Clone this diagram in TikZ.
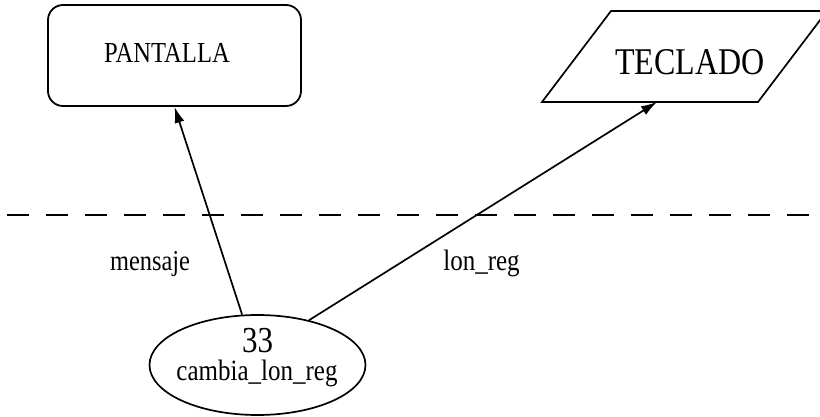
\documentclass[tikz,border=0pt]{standalone}
\usepackage{fontspec}
\setmainfont{Liberation Serif}
\usetikzlibrary{shapes.geometric,arrows.meta}
\newcommand{\tstretch}[2]{{\fontsize{#1}{#1}\selectfont\scalebox{1}[1.18]{#2}}}
\begin{document}
\begin{tikzpicture}[x=1pt,y=-1pt,
  edge/.style={line width=1.7pt},
  arr/.style={edge,-{Latex[length=16pt,width=10pt]}},
  lbl/.style={inner sep=0pt,anchor=base}]
\useasboundingbox (0,0) rectangle (820,417);
\clip (0,0) rectangle (820,417);
% PANTALLA
\node[draw,line width=1.8pt,rounded corners=15pt,minimum width=253pt,minimum height=101pt] (pant) at (174.5,55.5) {};
\node[lbl] (pantt) at (167,63) {\tstretch{24.6pt}{PANTALLA}};
% TECLADO
\draw[line width=1.7pt] (611,11) -- (827,11) -- (758,102) -- (542,102) -- cycle;
\node[lbl] (tec) at (690,75) {\tstretch{32pt}{TECLADO}};
\coordinate (tecb) at (657,102);
% dashed line
\coordinate (dl) at (7,215);
\coordinate (dr) at (815,215);
\draw[line width=2.8pt,dash pattern=on 22pt off 17pt] (dl) -- (dr);
% process
\node[draw,ellipse,line width=1.7pt,minimum width=216pt,minimum height=100pt] (ell) at (257.5,365) {};
\node[lbl] (num) at (257.5,352) {\tstretch{31pt}{33}};
\node[lbl] (name) at (257,380) {\tstretch{25pt}{cambia\_lon\_reg}};
% connectors
\draw[arr] (ell.107) -- (pant.south);
\draw[arr] (ell.41) -- (tecb);
% labels
\node[lbl] (m) at (150,270) {\tstretch{24.4pt}{mensaje}};
\node[lbl] (l) at (481.5,270) {\tstretch{25pt}{lon\_reg}};
\end{tikzpicture}
\end{document}
